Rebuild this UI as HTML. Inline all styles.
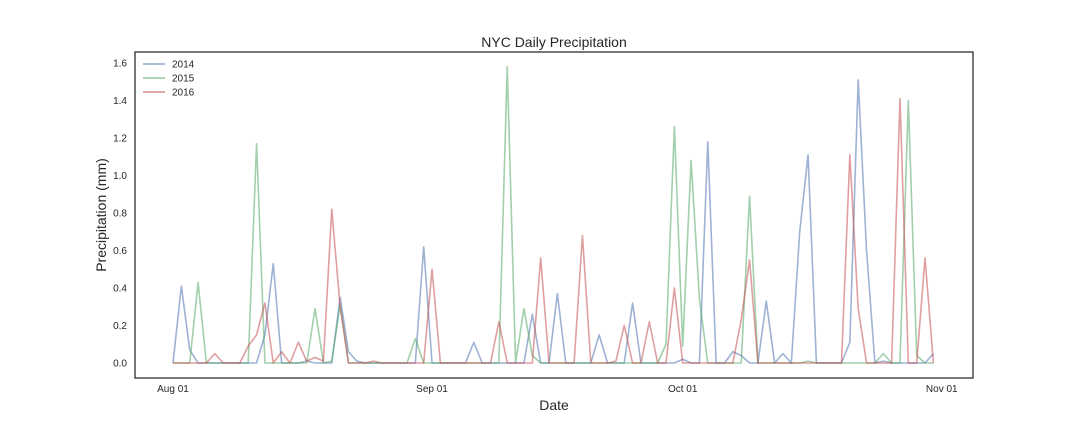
<!DOCTYPE html>
<html><head><meta charset="utf-8"><style>
html,body{margin:0;padding:0;background:#fff;}
svg{display:block;font-family:"Liberation Sans",sans-serif;}
</style></head><body>
<svg id="chart" width="1080" height="432" viewBox="0 0 1080 432">
<rect x="135" y="52" width="838" height="326" fill="#fff" stroke="#262626" stroke-width="1.25"/>
<text x="554" y="47" font-size="14" text-anchor="middle" fill="#262626">NYC Daily Precipitation</text>
<text x="554" y="410" font-size="14" text-anchor="middle" fill="#262626">Date</text>
<text transform="translate(106,215) rotate(-90)" font-size="14" text-anchor="middle" fill="#262626">Precipitation (mm)</text>
<g id="yticks"></g><g id="xticks"></g><g id="series"></g><g id="legend"></g>
</svg>
<script>
const yTicks = [0.0, 0.2, 0.4, 0.6, 0.8, 1.0, 1.2, 1.4, 1.6];
const xTickDays = [0, 31, 61, 92];
const xTickLabels = ["Aug 01", "Sep 01", "Oct 01", "Nov 01"];
const seriesNames = ["2014", "2015", "2016"];
const p2014 = [0,.41,.07,0,0,0,0,0,0,0,0,.15,.53,0,0,0,.01,0,0,0,.35,.06,.01,0,0,0,0,0,0,0,.62,0,0,0,0,0,.11,0,0,0,0,0,0,.26,0,0,.37,0,0,0,0,.15,0,0,0,.32,0,0,0,0,0,.02,0,0,1.18,0,0,.06,.04,0,0,.33,0,.05,0,.70,1.11,0,0,0,0,.11,1.51,.6,0,.01,0,0,0,0,0,.05];
const p2015 = [0,0,0,.43,0,0,0,0,0,0,1.17,0,0,0,0,0,0,.29,0,.01,.31,0,0,0,0,0,0,0,0,.13,0,0,0,0,0,0,0,0,0,0,1.58,0,.29,.04,0,0,0,0,0,0,0,0,0,0,0,0,0,0,0,.10,1.26,.09,1.08,.34,0,0,0,0,0,.89,0,0,0,0,0,0,.01,0,0,0,0,0,0,0,0,.05,0,0,1.40,.04,0,0];
const p2016 = [0,0,0,0,0,.05,0,0,0,.09,.15,.32,0,.06,0,.11,.01,.03,.01,.82,.3,0,0,0,.01,0,0,0,0,0,0,.50,0,0,0,0,0,0,0,.22,0,0,0,0,.56,0,0,0,0,.68,0,0,0,.01,.20,0,0,.22,0,0,.40,0,0,0,0,0,0,0,.23,.55,0,0,0,0,0,0,0,0,0,0,0,1.11,.29,0,0,0,0,1.41,0,0,.56,0];
const colors = ["#4C72B0", "#55A868", "#C44E52"];
const NS = "http://www.w3.org/2000/svg";
const xScale = d => 173 + d * 8.356;
const yScale = v => 363 - v * 187.5;
const yt = document.getElementById('yticks');
yTicks.forEach(v => {
  const t = document.createElementNS(NS, 'text');
  t.setAttribute('x', 127); t.setAttribute('y', yScale(v) + 3.5);
  t.setAttribute('font-size', '10'); t.setAttribute('text-anchor', 'end'); t.setAttribute('fill', '#262626');
  t.textContent = v.toFixed(1);
  
  
  yt.appendChild(t);
});
const xt = document.getElementById('xticks');
xTickDays.forEach((d, i) => {
  const t = document.createElementNS(NS, 'text');
  t.setAttribute('x', xScale(d)); t.setAttribute('y', 392);
  t.setAttribute('font-size', '10'); t.setAttribute('text-anchor', 'middle'); t.setAttribute('fill', '#262626');
  t.textContent = xTickLabels[i];
  
  
  xt.appendChild(t);
});
const sg = document.getElementById('series');
[p2014, p2015, p2016].forEach((arr, s) => {
  const pl = document.createElementNS(NS, 'polyline');
  pl.setAttribute('points', arr.map((v, i) => xScale(i).toFixed(2) + ',' + yScale(v).toFixed(2)).join(' '));
  pl.setAttribute('fill', 'none'); pl.setAttribute('stroke', colors[s]);
  pl.setAttribute('stroke-width', '1.6'); pl.setAttribute('stroke-opacity', '0.55');
  pl.setAttribute('stroke-linejoin', 'round');
  
  
  sg.appendChild(pl);
});
const lg = document.getElementById('legend');
seriesNames.forEach((n, s) => {
  const g = document.createElementNS(NS, 'g');
  
  
  const y = 64 + s * 14;
  const l = document.createElementNS(NS, 'line');
  l.setAttribute('x1', 143); l.setAttribute('x2', 165); l.setAttribute('y1', y); l.setAttribute('y2', y);
  l.setAttribute('stroke', colors[s]); l.setAttribute('stroke-width', '1.8'); l.setAttribute('stroke-opacity', '0.55');
  const t = document.createElementNS(NS, 'text');
  t.setAttribute('x', 172); t.setAttribute('y', y + 3.5); t.setAttribute('font-size', '10'); t.setAttribute('fill', '#262626');
  t.textContent = n;
  g.appendChild(l); g.appendChild(t); lg.appendChild(g);
});
</script>
</body></html>
